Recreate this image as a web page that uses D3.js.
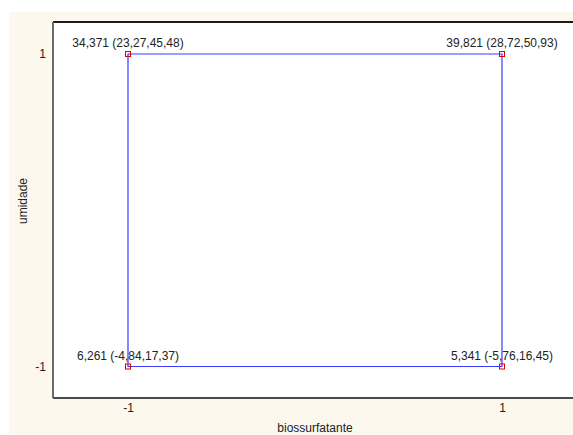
<!DOCTYPE html>
<html>
<head>
<meta charset="utf-8">
<script src="https://cdn.jsdelivr.net/npm/d3@7"></script>
<style>
  html, body { margin: 0; padding: 0; background: #ffffff; }
  svg { display: block; font-family: Arial, "Liberation Sans", sans-serif; }
</style>
</head>
<body>
<svg id="chart" width="573" height="435"></svg>
<script>
// Factor levels (coded) and the corner responses with their intervals
const xLevels = [-1, 1];
const yLevels = [-1, 1];
const xTickLabels = ["-1", "1"];
const yTickLabels = ["-1", "1"];
const cornerX = [-1, 1, 1, -1];
const cornerY = [1, 1, -1, -1];
const cornerLabels = [
  "34,371 (23,27,45,48)",
  "39,821 (28,72,50,93)",
  "5,341 (-5,76,16,45)",
  "6,261 (-4,84,17,37)"
];
const xTitle = "biossurfatante";
const yTitle = "umidade";

const svg = d3.select("#chart");
const W = 573, H = 435;

// cream panel behind the plot
svg.append("rect").attr("x", 9).attr("y", 12).attr("width", W - 9).attr("height", H - 12)
  .attr("fill", "#fdf8ed");

const plot = { left: 53, top: 22, right: 580, bottom: 398 };

svg.append("rect")
  .attr("x", plot.left).attr("y", plot.top)
  .attr("width", plot.right - plot.left).attr("height", plot.bottom - plot.top)
  .attr("fill", "#ffffff");

const x = d3.scaleLinear().domain([-1, 1]).range([128, 502]);
const y = d3.scaleLinear().domain([-1, 1]).range([366.5, 54]);

// frame: top edge black, left and bottom grey
svg.append("line").attr("x1", plot.left).attr("x2", plot.right).attr("y1", plot.top).attr("y2", plot.top)
  .attr("stroke", "#1a1a1a").attr("stroke-width", 2);
svg.append("line").attr("x1", plot.left).attr("x2", plot.left).attr("y1", plot.top).attr("y2", plot.bottom)
  .attr("stroke", "#6b6b6b").attr("stroke-width", 2);
svg.append("line").attr("x1", plot.left).attr("x2", plot.right).attr("y1", plot.bottom).attr("y2", plot.bottom)
  .attr("stroke", "#4a4a4a").attr("stroke-width", 2);

// axes (labels only, no tick marks or domain line)
const xAxis = d3.axisBottom(x).tickValues(xLevels).tickFormat((d, i) => xTickLabels[i]).tickSize(0).tickPadding(0);
const gx = svg.append("g").attr("transform", "translate(0,403)").call(xAxis);
gx.select(".domain").remove();
gx.selectAll("text").attr("font-size", 12).attr("fill", "#222").attr("dy", "0.71em")
  .attr("font-family", "Arial, 'Liberation Sans', sans-serif");

const yAxis = d3.axisLeft(y).tickValues(yLevels).tickFormat((d, i) => yTickLabels[i]).tickSize(0).tickPadding(0);
const gy = svg.append("g").attr("transform", "translate(46,0)").call(yAxis);
gy.select(".domain").remove();
gy.selectAll("text").attr("font-size", 12).attr("fill", "#222")
  .attr("font-family", "Arial, 'Liberation Sans', sans-serif");

// axis titles
svg.append("text").attr("x", 315).attr("y", 432).attr("text-anchor", "middle")
  .attr("font-size", 12).attr("fill", "#222").text(xTitle);
svg.append("text").attr("transform", "translate(27,201) rotate(-90)").attr("text-anchor", "middle")
  .attr("font-size", 12).attr("fill", "#222").text(yTitle);

// closed square through the four corners
const pts = cornerX.map((cx, i) => [cx, cornerY[i]]);
const line = d3.line().x(d => x(d[0])).y(d => y(d[1])).curve(d3.curveLinearClosed);
svg.append("path").attr("d", line(pts)).attr("fill", "none")
  .attr("stroke", "#3c3cff").attr("stroke-width", 1.2);

// corner markers
svg.selectAll("rect.mark").data(pts).enter().append("rect").attr("class", "mark")
  .attr("x", d => x(d[0]) - 2.5).attr("y", d => y(d[1]) - 2.5)
  .attr("width", 5).attr("height", 5)
  .attr("fill", "none").attr("stroke", "#e00000").attr("stroke-width", 1);

// corner value labels
svg.selectAll("text.corner").data(pts).enter().append("text").attr("class", "corner")
  .attr("x", d => x(d[0]))
  .attr("y", d => y(d[1]) - 7)
  .attr("text-anchor", "middle").attr("font-size", 12).attr("fill", "#222")
  .text((d, i) => cornerLabels[i]);
</script>
</body>
</html>
